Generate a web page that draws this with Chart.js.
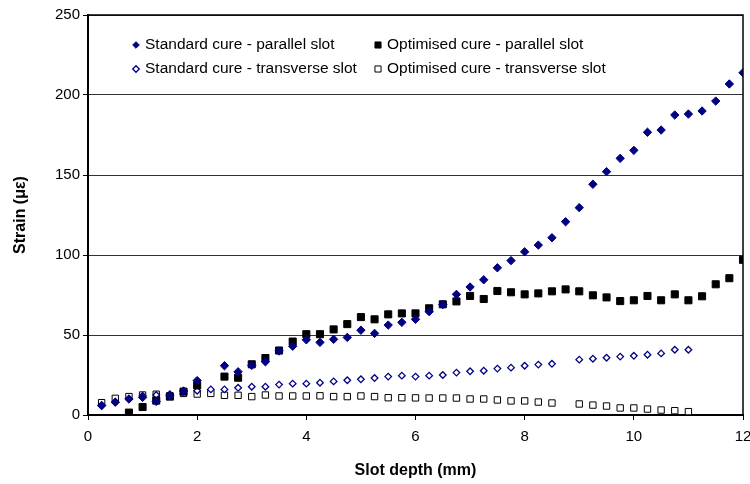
<!DOCTYPE html>
<html>
<head>
<meta charset="utf-8">
<script src="https://cdn.jsdelivr.net/npm/chart.js@4"></script>
<style>
  body { margin: 0; background: #fff; }
  #wrap { width: 750px; height: 484px; }
</style>
</head>
<body>
<div id="wrap"><canvas id="strain-chart" width="750" height="484"></canvas></div>
<script>
// slot depth (mm), one reading every 0.25 mm
const depth = [0.25, 0.5, 0.75, 1, 1.25, 1.5, 1.75, 2, 2.25, 2.5, 2.75, 3,
  3.25, 3.5, 3.75, 4, 4.25, 4.5, 4.75, 5, 5.25, 5.5, 5.75, 6,
  6.25, 6.5, 6.75, 7, 7.25, 7.5, 7.75, 8, 8.25, 8.5, 8.75, 9,
  9.25, 9.5, 9.75, 10, 10.25, 10.5, 10.75, 11, 11.25, 11.5, 11.75, 12];

const std_parallel = [6, 8, 10, 11, 8.5, 12, 15, 21.5, null, 30.8, 27, 31,
  33.3, 40, 43, 47, 45.4, 47.3, 48.5, 53, 51, 56.2, 57.9, 59.8,
  64.6, 69, 75.4, 80, 84.5, 92, 96.5, 102, 106.2, 110.8, 120.8, 129.6,
  144.2, 152.1, 160.4, 165.4, 176.7, 178.1, 187.5, 188.1, 190, 196.2, 206.9, 213.9];

const opt_parallel = [null, null, 1.5, 5, 9, 11.5, 14.6, 18.5, null, 24, 23.3, 31.7,
  35.6, 40.3, 45.9, 50.5, 50.5, 53.5, 56.8, 61.2, 59.8, 62.9, 63.5, 63.5,
  66.7, 69.2, 71, 74.4, 72.5, 77.5, 76.7, 75.4, 76, 77.3, 78.5, 77.3,
  74.8, 73.5, 71.2, 71.7, 74.4, 71.7, 75.4, 71.7, 74.2, 81.7, 85.5, 97];

const std_transverse = [5.6, 8.1, 10, 12, 12.5, 13, 15, 15.2, 16, 16, 17, 17.7,
  17.7, 19, 19.6, 19.6, 20.2, 21, 21.7, 22.3, 23.1, 24, 24.6, 24,
  24.6, 25, 26.5, 27.3, 27.7, 29, 29.6, 30.8, 31.5, 32, null, 34.6,
  35.2, 35.8, 36.5, 37, 37.7, 38.5, 40.8, 40.8, null, null, null, null];

const opt_transverse = [7.7, 10.4, 11.5, 12.5, 13, 12, 13.5, 13.1, 13.5, 12.3, 12.3, 11.5,
  12.5, 11.9, 11.9, 11.9, 12, 11.5, 11.5, 11.9, 11.5, 10.8, 10.8, 10.7,
  10.6, 10.6, 10.6, 10, 10, 9.4, 8.8, 8.8, 8.1, 7.5, null, 6.9,
  6.2, 5.6, 4.4, 4.4, 3.7, 3.1, 2.7, 2.1, null, null, null, null];

const series_names = [
  "Standard cure - parallel slot",
  "Optimised cure - parallel slot",
  "Standard cure - transverse slot",
  "Optimised cure - transverse slot",
];

const NAVY = "#000080";
const FONT = "'Liberation Sans', Arial, sans-serif";

function toPoints(values) {
  return depth.map((d, i) => ({ x: d, y: values[i] }));
}

// legend sits inside the plot, two columns
const insideLegend = {
  id: "insideLegend",
  afterDraw(chart) {
    const ctx = chart.ctx;
    const cols = [136, 378];
    const rows = [45, 69];
    ctx.save();
    ctx.font = "15.5px " + FONT;
    ctx.textBaseline = "middle";
    ctx.fillStyle = "#000";
    chart.data.datasets.forEach((ds, i) => {
      const x = cols[i % 2];
      const y = rows[Math.floor(i / 2)];
      ctx.save();
      ctx.fillStyle = ds.pointBackgroundColor;
      ctx.strokeStyle = ds.pointBorderColor;
      ctx.lineWidth = ds.pointBorderWidth;
      const r = ds.pointStyle === "rect" ? 4.3 : 3.3;
      Chart.helpers.drawPoint(ctx, { pointStyle: ds.pointStyle, radius: r, rotation: 0, borderWidth: ds.pointBorderWidth }, x, y);
      ctx.restore();
      ctx.fillText(ds.label, x + 9, y);
    });
    ctx.restore();
  },
};

// box round the plot area
const plotBorder = {
  id: "plotBorder",
  afterDraw(chart) {
    const { ctx, chartArea: a } = chart;
    ctx.save();
    ctx.strokeStyle = "#000";
    ctx.lineWidth = 1.5;
    ctx.beginPath();
    ctx.moveTo(a.left, a.top);
    ctx.lineTo(a.right, a.top);
    ctx.lineTo(a.right, a.bottom);
    ctx.stroke();
    ctx.restore();
  },
};

const strain_data = {
  datasets: [
    {
      label: series_names[0],
      data: toPoints(std_parallel),
      pointStyle: "rectRot",
      pointRadius: 4.2,
      pointBackgroundColor: NAVY,
      pointBorderColor: NAVY,
      pointBorderWidth: 1,
    },
    {
      label: series_names[1],
      data: toPoints(opt_parallel),
      pointStyle: "rect",
      pointRadius: 5,
      pointBackgroundColor: "#000",
      pointBorderColor: "#000",
      pointBorderWidth: 1,
    },
    {
      label: series_names[2],
      data: toPoints(std_transverse),
      pointStyle: "rectRot",
      pointRadius: 3.3,
      pointBackgroundColor: "#fff",
      pointBorderColor: NAVY,
      pointBorderWidth: 1.3,
    },
    {
      label: series_names[3],
      data: toPoints(opt_transverse),
      pointStyle: "rect",
      pointRadius: 4.5,
      pointBackgroundColor: "#fff",
      pointBorderColor: "#000",
      pointBorderWidth: 1,
    },
  ],
};

const scatter_config = {
  type: "scatter",
  data: strain_data,
  plugins: [insideLegend, plotBorder],
  options: {
    responsive: false,
    animation: false,
    events: [],
    layout: { padding: { top: 15, right: 7, left: 0, bottom: 0 } },
    plugins: {
      legend: { display: false },
      tooltip: { enabled: false },
    },
    scales: {
      x: {
        type: "linear",
        min: 0,
        max: 12,
        afterFit(scale) {
          scale.height = 69;
          scale.paddingLeft = 0;
          scale.paddingRight = 0;
        },
        ticks: {
          stepSize: 2,
          padding: 8,
          color: "#000",
          font: { family: FONT, size: 15 },
          maxRotation: 0,
        },
        grid: { drawOnChartArea: false, drawTicks: true, tickLength: 5, tickColor: "#000" },
        border: { color: "#000", width: 2 },
        title: {
          display: true,
          text: "Slot depth (mm)",
          color: "#000",
          font: { family: FONT, size: 16, weight: "bold" },
          padding: { top: 0, bottom: 4 },
        },
      },
      y: {
        min: 0,
        max: 250,
        afterFit(scale) { scale.width = 88; },
        ticks: {
          stepSize: 50,
          padding: 3,
          color: "#000",
          font: { family: FONT, size: 15 },
        },
        grid: { color: "#333", lineWidth: 1, drawTicks: true, tickLength: 5, tickColor: "#000" },
        border: { color: "#000", width: 2 },
        title: {
          display: true,
          text: "Strain (με)",
          color: "#000",
          font: { family: FONT, size: 16, weight: "bold" },
          padding: { top: 11, bottom: 0 },
        },
      },
    },
  },
};

function initializeScatterChart(canvasID) {
  const ctx = document.getElementById(canvasID).getContext("2d");
  return new Chart(ctx, scatter_config);
}

initializeScatterChart("strain-chart");
</script>
</body>
</html>
